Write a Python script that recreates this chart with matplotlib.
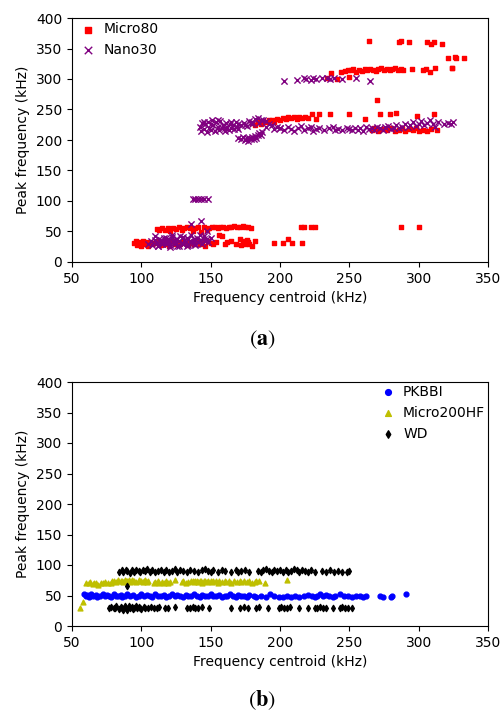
import numpy as np
import matplotlib
matplotlib.use("Agg")
import matplotlib.pyplot as plt

plt.rcParams['mathtext.fontset'] = 'stix'

# ---- panel (a): Micro80 ----
m80_low_x = [95,96,97,98,99,100,101,102,103,104,
             105,106,108,110,112,114,116,118,120,122,
             124,126,128,130,132,134,136,138,140,142,
             144,146,148,150,152,154,156,158,160,162,
             165,168,171,172,173,174,175,176,177,178,
             180,182,196,202,206,209,216]
m80_low_y = [31,34,28,33,30,27,35,29,32,30,
             26,33,29,31,34,28,30,33,27,35,
             30,32,29,34,31,28,33,30,36,29,
             32,27,34,31,30,33,45,43,29,32,
             35,30,37,28,34,31,30,36,33,29,
             27,34,31,31,37,31,31]
m80_mid_x = [111,113,115,117,119,121,123,125,127,129,
             131,133,135,137,139,141,143,145,147,149,
             151,153,155,157,159,161,163,165,167,169,
             171,173,175,177,179,215,217,222,225,287,300]
m80_mid_y = [54,52,56,53,55,51,56,54,57,53,
             56,57,55,50,56,57,49,58,52,56,
             58,57,56,58,57,56,58,57,59,57,
             58,59,58,57,56,57,57,57,57,57,57]
m80_b240_x = [180,182,184,186,188,190,192,194,196,198,
              200,202,204,206,208,210,212,214,216,218,
              220,223,226,228,236,250,261,272,279,284,
              299,311]
m80_b240_y = [228,224,230,226,231,229,233,232,230,235,
              233,236,234,237,236,238,235,237,236,238,
              236,242,235,242,242,242,234,243,243,244,
              239,243]
m80_b218_x = [266,268,270,271,274,277,280,283,286,288,290,293,296,298,300,303,306,309,313]
m80_b218_y = [216,219,265,215,218,216,220,214,217,219,215,218,216,220,214,217,215,218,216]
m80_b315_x = [234,237,241,244,247,249,251,253,255,257,
              259,261,263,265,267,269,271,273,275,277,
              279,281,283,285,287,289,295,303,305,308,
              312,324,250]
m80_b315_y = [301,310,300,312,313,315,314,316,312,315,
              313,316,314,317,315,313,316,318,314,317,
              315,316,318,314,317,315,317,314,317,312,
              318,318,303]
m80_top_x = [264,286,287,293,306,309,311,317,321,326,327,333,324]
m80_top_y = [362,360,363,360,360,357,360,357,334,336,334,334,318]

# ---- panel (a): Nano30 ----
n30_low_x = [105,107,108,110,111,112,113,114,115,116,
             117,118,119,120,121,122,123,124,125,126,
             127,128,129,130,131,132,133,134,135,136,
             137,138,139,140,141,142,143,144,145,146,
             147,148,150,112,115,118,121,124,127,130,
             133,136,139,142,145,110,114,118,122,126,
             130,134,138,137,139,141,143,145,148,136,
             143,147]
n30_low_y = [30,34,28,36,31,27,38,33,29,40,
             35,30,37,32,28,41,34,30,38,27,
             35,42,31,29,36,33,39,28,34,44,
             31,37,29,40,33,45,36,30,42,35,
             38,32,40,26,29,32,25,33,27,30,
             26,32,28,34,38,42,36,40,44,38,
             41,37,33,103,104,103,104,103,103,63,
             67,50]
n30_band_x = [142,143,144,145,146,147,148,149,150,151,
              152,153,154,155,156,157,158,159,160,161,
              162,163,164,165,166,167,168,169,170,172,
              174,176,178,180,182,184,186,188,190,192,
              194,196,198,200,145,150,155,160,165,170,
              175,180,185,190]
n30_band_y = [222,215,228,218,226,213,230,220,217,232,
              224,215,229,221,216,231,219,225,214,228,
              222,217,227,220,224,218,229,222,226,225,
              228,223,231,229,234,236,232,233,221,227,
              224,218,222,219,230,226,233,219,230,218,
              224,226,228,231]
n30_branch_x = [170,172,173,175,176,177,178,179,180,181,182,183,184,185,186,187]
n30_branch_y = [203,202,205,200,204,199,203,201,205,202,207,204,209,211,208,213]
n30_right_x = [200,203,206,208,210,213,215,217,220,222,
               224,226,228,232,235,238,240,242,245,248,
               250,252,254,256,258,260,262,264,266,268,
               270,272,274,276,278,280,282,284,286,288,
               290,292,294,296,298,300,302,304,306,308,
               310,312,314,318,321,323,325]
n30_right_y = [220,216,222,218,214,220,223,217,219,221,
               215,218,220,216,219,221,217,218,216,219,
               218,216,220,217,219,215,221,218,220,216,
               222,219,217,221,223,218,220,224,219,222,
               226,221,225,229,223,227,231,224,228,233,
               226,222,229,226,228,227,229]
n30_top_x = [203,212,217,219,222,224,226,230,234,236,239,245,255,265]
n30_top_y = [297,298,301,300,299,302,300,301,302,300,301,300,301,297]

# ---- panel (b) ----
pk_x = [59,60,61,62,63,64,65,67,68,70,
        72,74,75,77,78,80,82,83,85,86,
        88,90,92,94,96,98,100,102,104,106,
        108,110,112,114,116,118,120,122,124,126,
        128,130,132,134,136,138,140,142,144,146,
        148,150,152,154,156,158,160,162,164,166,
        168,170,172,174,176,178,181,183,186,190,
        193,196,199,202,205,208,211,214,217,220,
        223,225,227,229,231,233,235,238,240,243,
        246,249,252,255,258,260,262,272,274,280,
        281,291]
pk_y = [52,49,51,48,50,53,49,51,48,50,
        52,49,51,50,48,52,50,49,51,48,
        50,52,49,51,48,50,52,49,51,50,
        48,52,49,50,51,48,50,52,49,51,
        50,48,51,50,49,52,50,48,51,49,
        50,52,49,50,51,48,50,49,52,50,
        48,51,49,50,48,51,49,47,50,48,
        52,49,47,48,50,47,49,48,50,51,
        49,48,50,52,49,51,50,48,50,52,
        49,50,48,50,49,48,50,49,47,48,
        50,52]
m200_x = [60,62,63,65,66,67,69,71,72,74,
          76,78,79,80,82,83,85,86,87,88,
          89,90,91,92,93,94,95,96,98,99,
          100,101,102,103,104,105,109,110,112,113,
          115,116,118,119,121,124,129,130,132,134,
          136,137,138,139,140,141,142,143,144,145,
          146,147,148,150,151,152,154,155,156,158,
          160,161,163,165,167,169,171,172,174,176,
          178,180,182,183,185,189,205,56,58]
m200_y = [71,70,72,69,71,70,68,71,70,72,
          71,70,73,74,72,75,73,74,72,75,
          73,74,76,72,75,73,74,72,75,73,
          74,72,73,75,72,74,71,72,73,71,
          72,70,73,71,72,75,72,73,71,72,
          74,73,72,74,73,72,74,73,71,74,
          73,72,74,73,72,74,73,71,74,72,
          73,72,74,71,73,72,73,72,74,72,
          73,71,72,74,73,70,75,30,40]
wd_hi_x = [84,86,87,89,90,92,93,95,96,98,
           99,101,103,104,106,108,110,112,114,116,
           118,120,122,124,126,128,130,133,135,138,
           141,144,146,148,150,152,155,158,160,165,
           168,170,172,175,178,184,186,188,190,192,
           194,196,198,200,202,204,206,208,210,212,
           214,216,218,220,222,225,230,233,236,239,
           242,245,248,250]
wd_hi_y = [89,91,88,92,90,87,91,89,92,90,
           88,91,90,93,89,91,88,90,92,89,
           91,88,90,93,89,91,90,88,92,90,
           89,91,93,90,88,91,89,92,90,88,
           91,89,90,92,88,90,89,91,93,90,
           88,91,90,92,89,91,88,90,93,91,
           89,92,90,88,91,89,90,88,91,89,
           90,88,89,90]
wd_lo_x = [77,78,80,81,82,84,85,86,87,88,
           89,90,91,92,93,94,95,96,97,98,
           99,100,102,103,105,107,109,111,113,117,
           119,124,133,135,137,139,141,144,149,165,
           171,174,177,183,185,191,199,201,203,205,
           207,214,220,225,227,229,231,233,238,243,
           245,247,249,252,90]
wd_lo_y = [30,31,29,30,32,28,31,30,27,32,
           30,26,33,29,31,28,30,32,29,31,
           30,28,31,30,29,31,30,30,31,29,
           30,31,30,29,31,30,30,31,30,30,
           29,31,30,30,31,30,29,31,30,30,
           31,30,30,30,29,31,30,30,30,30,
           31,29,30,30,66]

m80_x = m80_low_x + m80_mid_x + m80_b240_x + m80_b218_x + m80_b315_x + m80_top_x
m80_y = m80_low_y + m80_mid_y + m80_b240_y + m80_b218_y + m80_b315_y + m80_top_y
n30_x = n30_low_x + n30_band_x + n30_branch_x + n30_right_x + n30_top_x
n30_y = n30_low_y + n30_band_y + n30_branch_y + n30_right_y + n30_top_y
wd_x = wd_hi_x + wd_lo_x
wd_y = wd_hi_y + wd_lo_y

fig = plt.figure(figsize=(5.02, 7.16), dpi=100)
ax1 = fig.add_axes([72/502, 1-262/716, 416/502, 244/716])
ax2 = fig.add_axes([72/502, 1-626/716, 416/502, 244/716])

ax1.scatter(m80_x, m80_y, marker='s', s=12, color='red', label='Micro80')
ax1.scatter(n30_x, n30_y, marker='x', s=20, color='purple', linewidths=1, label='Nano30')
ax1.legend(loc='upper left', bbox_to_anchor=(0.012, 1.0), frameon=False,
           handlelength=1.0, handletextpad=0.6, borderaxespad=0.2, borderpad=0.1,
           markerscale=1.2)

ax2.scatter(pk_x, pk_y, marker='o', s=12, color='blue', label='PKBBI')
ax2.scatter(m200_x, m200_y, marker='^', s=12, color='y', label='Micro200HF')
ax2.scatter(wd_x, wd_y, marker='d', s=10, color='black', label='WD')
ax2.legend(loc='upper right', frameon=False, handlelength=1.0, handletextpad=0.6,
           borderaxespad=0.1, borderpad=0.1, markerscale=1.2)

for ax in (ax1, ax2):
    ax.set_xlim(50, 350)
    ax.set_ylim(0, 400)
    ax.set_xticks(np.arange(50, 351, 50))
    ax.set_yticks(np.arange(0, 401, 50))
    ax.set_xlabel('Frequency centroid (kHz)')
    ax.set_ylabel('Peak frequency (kHz)')

fig.text(262/502, 1-340/716, r'$(\mathbf{a})$', ha='center', va='center', fontsize=16)
fig.text(262/502, 1-700/716, r'$(\mathbf{b})$', ha='center', va='center', fontsize=16)

fig.savefig('out.png', dpi=100)
